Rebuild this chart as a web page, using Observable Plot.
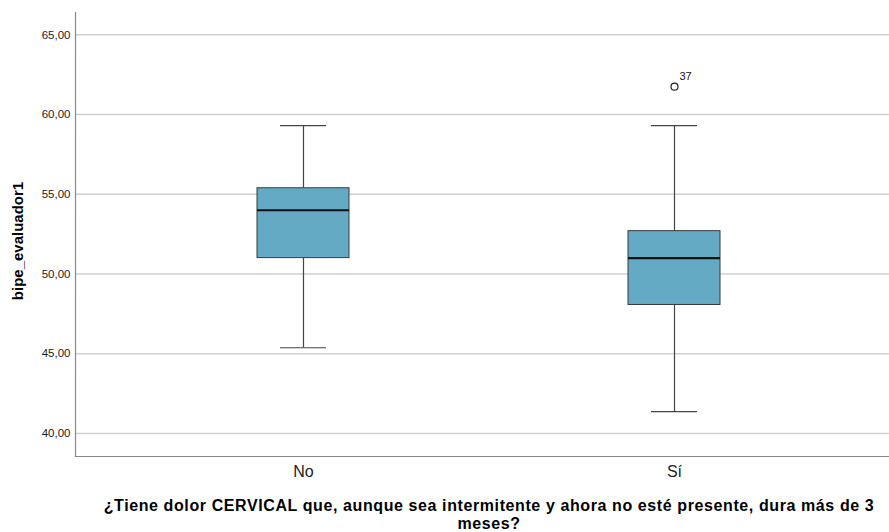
<!DOCTYPE html>
<html>
<head>
<meta charset="utf-8">
<script src="https://cdn.jsdelivr.net/npm/d3@7"></script>
<script src="https://cdn.jsdelivr.net/npm/@observablehq/plot@0.6"></script>
<style>
  body { margin: 0; background: #fff; font-family: "Liberation Sans", Arial, sans-serif; position: relative; }
  #ylabel { position: absolute; left: 17px; top: 241px; transform: translate(-50%, -50%) rotate(-90deg); font-weight: bold; font-size: 15px; white-space: nowrap; color: #000; }
  #caption { width: 889px; text-align: center; font-weight: bold; font-size: 16px; letter-spacing: 0.6px; line-height: 18px; padding-left: 89px; box-sizing: border-box; padding-top: 7px; color: #000; }
</style>
</head>
<body>
<div id="chart"></div>
<div id="ylabel">bipe_evaluador1</div>
<div id="caption">¿Tiene dolor CERVICAL que, aunque sea intermitente y ahora no esté presente, dura más de 3<br>meses?</div>
<script>
const categories = ["No", "Sí"];
const lowerWhisker = [45.38, 41.38];
const q1 = [51.0, 48.06];
const median = [54.0, 51.0];
const q3 = [55.38, 52.69];
const upperWhisker = [59.31, 59.31];
const outlierCategory = ["Sí"];
const outlierValue = [61.75];
const outlierLabel = ["37"];
const yTicks = [40, 45, 50, 55, 60, 65];
const yDomain = [38.56, 66.4];

const boxes = categories.map((c, i) => ({
  cat: c, lo: lowerWhisker[i], q1: q1[i], med: median[i], q3: q3[i], hi: upperWhisker[i]
}));
const outliers = outlierCategory.map((c, i) => ({cat: c, v: outlierValue[i], label: outlierLabel[i]}));
const fmt = d => d.toFixed(2).replace(".", ",");

const chart = Plot.plot({
  width: 889,
  height: 490,
  marginLeft: 75,
  marginRight: 0,
  marginTop: 12,
  marginBottom: 34,
  style: { fontFamily: "Liberation Sans, Arial, sans-serif", background: "#fff" },
  x: { type: "band", domain: categories, paddingInner: 0.752, paddingOuter: 0.473, align: 0.518 },
  y: { domain: yDomain },
  marks: [
    Plot.ruleY(yTicks, { stroke: "#cfcfcf", strokeWidth: 1.5 }),
    Plot.ruleX(boxes, { x: "cat", y1: "lo", y2: "q1", stroke: "#444", strokeWidth: 1.2 }),
    Plot.ruleX(boxes, { x: "cat", y1: "q3", y2: "hi", stroke: "#444", strokeWidth: 1.2 }),
    Plot.tickY(boxes, { x: "cat", y: "lo", stroke: "#444", strokeWidth: 1.2, inset: 23 }),
    Plot.tickY(boxes, { x: "cat", y: "hi", stroke: "#444", strokeWidth: 1.2, inset: 23 }),
    Plot.barY(boxes, { x: "cat", y1: "q1", y2: "q3", fill: "#64aac4", stroke: "#3a3a3a", strokeWidth: 1 }),
    Plot.tickY(boxes, { x: "cat", y: "med", stroke: "#111", strokeWidth: 2.2 }),
    Plot.dot(outliers, { x: "cat", y: "v", r: 3.5, fill: "#fff", stroke: "#222", strokeWidth: 1.2 }),
    Plot.text(outliers, { x: "cat", y: "v", text: "label", dx: 11, dy: -10, fontSize: 11, fill: "#111" }),
    Plot.axisY({ ticks: yTicks, tickFormat: fmt, tickSize: 0, tickPadding: 5, fontSize: 11.5, color: "#222", label: null }),
    Plot.axisX({ tickSize: 0, tickPadding: 9, fontSize: 16, color: "#222", label: null }),
    Plot.frame({ anchor: "left", stroke: "#888", strokeWidth: 1.2 }),
    Plot.frame({ anchor: "bottom", stroke: "#888", strokeWidth: 1.2 })
  ]
});
document.getElementById("chart").appendChild(chart);
</script>
</body>
</html>
